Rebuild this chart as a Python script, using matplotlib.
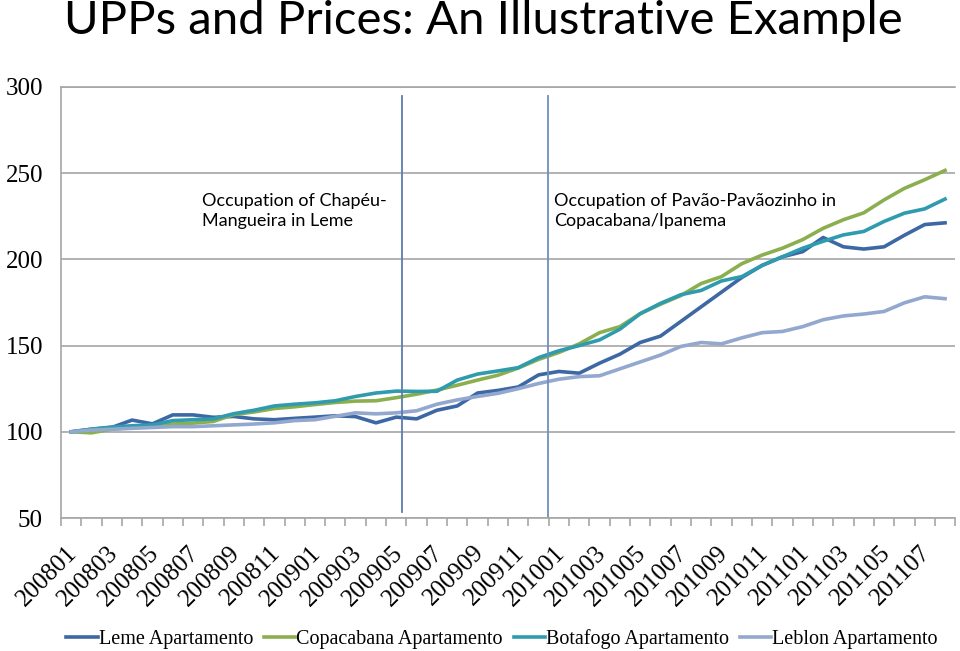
import numpy as np
import matplotlib
matplotlib.use("Agg")
import matplotlib.pyplot as plt
import matplotlib.transforms as mtransforms

# monthly periods 200801 .. 201108
months = [f"{y}{m:02d}" for y in (2008, 2009, 2010, 2011) for m in range(1, 13)][:44]

leme = [100, 101.5, 102.5, 106.8, 104.6, 109.8, 109.8, 108.4, 108.9, 107.5,
        107, 107.8, 108.5, 109.3, 108.8, 105.2, 108.5, 107.5, 112.5, 115,
        122.5, 124, 126, 133, 135, 134, 139.8, 145, 151.8, 155.5,
        164, 172.5, 181, 189.5, 196.5, 201.5, 204.5, 212.7, 207.3, 206,
        207.3, 214, 220.2, 221.2]
copacabana = [100, 99.4, 101.5, 102.5, 103.5, 104.5, 105, 106, 110, 111.5,
              113.5, 114.5, 115.8, 117, 117.8, 118, 119.8, 121.8, 124.2, 127,
              130, 132.8, 137, 142, 146, 151, 157.5, 161, 168.5, 174,
              179, 186, 190, 197.5, 202.5, 206.5, 211.5, 218, 223, 227,
              234.5, 241.2, 246.2, 251.6]
botafogo = [100, 101.5, 102.8, 103.5, 104, 106.5, 107, 107.5, 110.5, 112.5,
            115, 116, 116.8, 118, 120.5, 122.5, 123.6, 123.4, 123.5, 130,
            133.5, 135.3, 137.2, 143, 147, 150, 153.3, 159.5, 168.5, 174.5,
            179.5, 182, 187.5, 190, 196.5, 201.5, 206.5, 210.5, 214.2, 216.2,
            222, 226.8, 229.3, 235]
leblon = [100, 101, 101.5, 102, 102.5, 103, 103, 103.5, 104, 104.5,
          105.2, 106.5, 107, 109, 111, 110.4, 111, 112.2, 116, 118.5,
          120.5, 122.3, 125, 128, 130.5, 132, 132.5, 136.5, 140.5, 144.5,
          149.5, 151.8, 151, 154.5, 157.5, 158.2, 161, 165, 167.2, 168.3,
          169.8, 174.8, 178.3, 177.2]

series = [
    ("Leme Apartamento", leme, "#3D68A3"),
    ("Copacabana Apartamento", copacabana, "#8BAF4F"),
    ("Botafogo Apartamento", botafogo, "#2F9BAE"),
    ("Leblon Apartamento", leblon, "#93A8CE"),
]

# event markers (category positions)
event_pos = [16.26, 23.48]
event_labels = ["Occupation of Chapéu-\nMangueira in Leme",
                "Occupation of Pavão-Pavãozinho in\nCopacabana/Ipanema"]

fig = plt.figure(figsize=(9.6, 6.51), dpi=100)
ax = fig.add_axes([0.0635, 0.2043, 0.9315, 0.6621])

x = np.arange(len(months))
for name, vals, col in series:
    ax.plot(x, vals, color=col, lw=2.6, label=name, solid_joinstyle="round")

ax.set_xlim(-0.5, len(months) - 0.5)
ax.set_ylim(50, 300)
ax.set_yticks([50, 100, 150, 200, 250, 300])
ax.yaxis.grid(True, color="#A6A6A6", lw=1.2)
ax.set_axisbelow(True)

ax.spines["right"].set_visible(False)
for s in ["left", "bottom", "top"]:
    ax.spines[s].set_color("#A6A6A6")
    ax.spines[s].set_linewidth(1.2)

serif = ["Liberation Serif", "DejaVu Serif"]
ax.set_xticks(x[::2])
ax.set_xticklabels(months[::2], rotation=45, ha="right", rotation_mode="anchor",
                   fontsize=18, family=serif)
ax.set_xticks(np.arange(-0.5, len(months)), minor=True)
ax.tick_params(axis="x", which="major", length=0, pad=17)
ax.tick_params(axis="x", which="minor", length=6, color="#A6A6A6", width=1.2)
ax.tick_params(axis="y", length=0, pad=13, labelsize=18)
for lb in ax.get_yticklabels():
    lb.set_family(serif)
shift = mtransforms.ScaledTranslation(-5 / 100, 0, fig.dpi_scale_trans)
for lb in ax.get_xticklabels():
    lb.set_transform(lb.get_transform() + shift)

# vertical event lines
ax.plot([event_pos[0]] * 2, [294.5, 53.5], color="#5A7DB0", lw=1.3)
ax.plot([event_pos[1]] * 2, [294.5, 50], color="#6F8FBF", lw=1.3)

sans = ["Lato", "DejaVu Sans"]
ax.text(6.43, 228, event_labels[0], fontsize=13, family=sans, va="center", ha="left",
        linespacing=1.3)
ax.text(23.77, 228, event_labels[1], fontsize=13, family=sans, va="center", ha="left",
        linespacing=1.3)

fig.text(0.504, 0.968, "UPPs and Prices: An Illustrative Example", ha="center", va="center",
         fontsize=34, family=["Lato", "DejaVu Sans"])

leg = fig.legend(loc="center", bbox_to_anchor=(0.523, 0.018), ncol=4, frameon=False,
                 prop={"family": serif, "size": 14.5}, handlelength=1.55, handletextpad=0.05,
                 columnspacing=0.55)

fig.savefig("out.png", dpi=100)
